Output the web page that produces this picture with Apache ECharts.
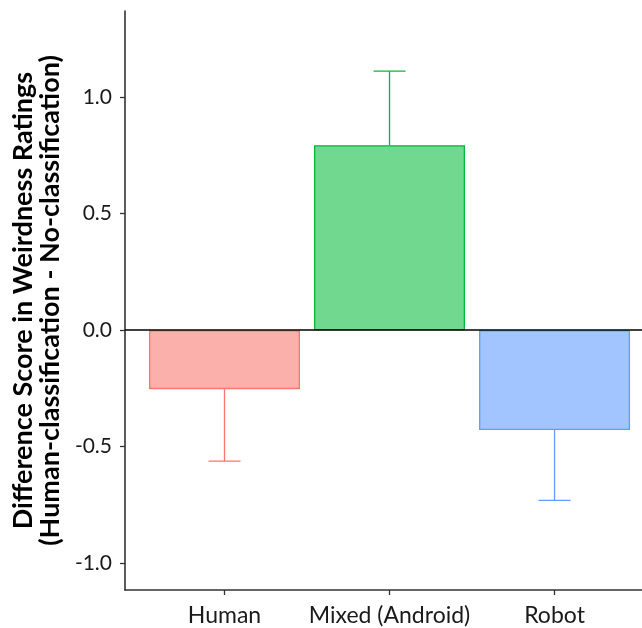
<!DOCTYPE html>
<html>
<head>
<meta charset="utf-8">
<script src="https://cdn.jsdelivr.net/npm/echarts@6/dist/echarts.min.js"></script>
<style>html,body{margin:0;padding:0;background:#fff}#c{width:642px;height:628px}</style>
</head>
<body>
<div id="c"></div>
<script>
const categories = ['Human', 'Mixed (Android)', 'Robot'];
const means = [-0.253, 0.794, -0.428];
const errEnds = [-0.562, 1.112, -0.730];
const yTicks = [-1.0, -0.5, 0.0, 0.5, 1.0];
const fills = ['#FBB0AC', '#70D88F', '#A3C5FF'];
const strokes = ['#F8766D', '#00BA38', '#619CFF'];

const FONT = 'Lato';
const chart = echarts.init(document.getElementById('c'), null, {renderer: 'canvas'});

const barData = categories.map((c, i) => ({
  value: [i + 1, means[i]],
  itemStyle: {color: fills[i], borderColor: strokes[i], borderWidth: 1.3}
}));
const errData = categories.map((c, i) => [i + 1, means[i], errEnds[i], i]);

chart.setOption({
  animation: false,
  grid: {left: 125, top: 11, right: 0, bottom: 38},
  xAxis: {
    type: 'value', min: 0.397, max: 3.53,
    splitLine: {show: false},
    axisLine: {show: true, onZero: false, lineStyle: {color: '#333', width: 1.6}},
    axisTick: {show: true, customValues: [1, 2, 3], length: 5, lineStyle: {color: '#333', width: 1.3}},
    axisLabel: {
      customValues: [1, 2, 3], margin: 14,
      formatter: v => categories[Math.round(v) - 1] || '',
      color: '#1a1a1a', fontSize: 23, fontFamily: FONT
    }
  },
  yAxis: {
    type: 'value', min: -1.115, max: 1.37,
    splitLine: {show: false},
    axisLine: {show: true, onZero: false, lineStyle: {color: '#333', width: 1.6}},
    axisTick: {show: true, customValues: yTicks, length: 5, lineStyle: {color: '#333', width: 1.3}},
    axisLabel: {
      customValues: yTicks, margin: 13,
      formatter: v => v.toFixed(1),
      color: '#1a1a1a', fontSize: 21, fontFamily: FONT
    },
    name: 'Difference Score in Weirdness Ratings\n(Human-classification - No-classification)',
    nameLocation: 'middle', nameRotate: 90, nameGap: 52,
    nameTextStyle: {fontSize: 27, fontWeight: 'bold', color: '#000', fontFamily: FONT, lineHeight: 27, align: 'center'}
  },
  series: [
    {
      type: 'bar', data: barData, barWidth: 151,
      markLine: {
        silent: true, symbol: 'none', label: {show: false},
        lineStyle: {color: '#000', width: 1.5, type: 'solid'},
        data: [{yAxis: 0}]
      },
      z: 2
    },
    {
      type: 'custom', data: errData, z: 3,
      renderItem: (params, api) => {
        const x = api.value(0);
        const p0 = api.coord([x, api.value(1)]);
        const p1 = api.coord([x, api.value(2)]);
        const col = strokes[api.value(3)];
        const half = 16;
        return {
          type: 'group',
          children: [
            {type: 'line', shape: {x1: p0[0], y1: p0[1], x2: p1[0], y2: p1[1]}, style: {stroke: col, lineWidth: 1.3}},
            {type: 'line', shape: {x1: p1[0] - half, y1: p1[1], x2: p1[0] + half, y2: p1[1]}, style: {stroke: col, lineWidth: 1.3}}
          ]
        };
      }
    }
  ]
});
</script>
</body>
</html>
